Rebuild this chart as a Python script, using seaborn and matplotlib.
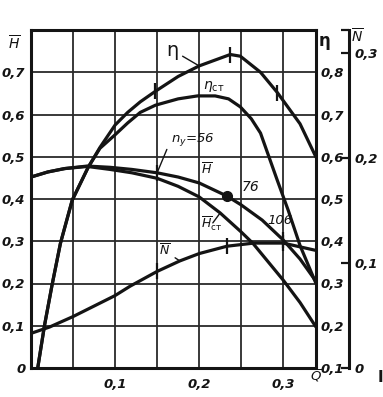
import matplotlib
matplotlib.use("Agg")
import matplotlib.pyplot as plt
import seaborn as sns
import pandas as pd
import numpy as np

# ---------------- data ----------------
q_head = [0, 0.02, 0.04, 0.067, 0.094, 0.12, 0.15, 0.175, 0.2, 0.233, 0.25, 0.275, 0.3, 0.32, 0.339]
head = [0.452, 0.464, 0.472, 0.478, 0.475, 0.470, 0.462, 0.452, 0.438, 0.407, 0.386, 0.350, 0.303, 0.258, 0.205]

q_head_st = [0, 0.02, 0.04, 0.067, 0.094, 0.12, 0.15, 0.175, 0.2, 0.225, 0.25, 0.264, 0.3, 0.32, 0.339]
head_st = [0.452, 0.464, 0.472, 0.477, 0.470, 0.462, 0.449, 0.430, 0.405, 0.367, 0.322, 0.295, 0.208, 0.155, 0.097]

q_power = [0, 0.022, 0.05, 0.1, 0.118, 0.15, 0.177, 0.2, 0.233, 0.265, 0.3, 0.339]
power = [0.033, 0.039, 0.049, 0.069, 0.078, 0.092, 0.102, 0.109, 0.116, 0.119, 0.119, 0.112]

q_eta = [0.008, 0.016, 0.025, 0.035, 0.049, 0.068, 0.082, 0.1, 0.115, 0.13, 0.148, 0.175, 0.2, 0.237, 0.249, 0.273, 0.293, 0.32, 0.339]
eta = [0.10, 0.20, 0.296, 0.395, 0.497, 0.575, 0.622, 0.675, 0.705, 0.73, 0.755, 0.79, 0.815, 0.842, 0.838, 0.80, 0.752, 0.678, 0.599]

q_eta_st = [0.008, 0.016, 0.025, 0.035, 0.049, 0.068, 0.082, 0.1, 0.115, 0.13, 0.148, 0.175, 0.198, 0.219, 0.235, 0.249, 0.262, 0.273, 0.293, 0.306, 0.32, 0.339]
eta_st = [0.10, 0.20, 0.296, 0.395, 0.497, 0.575, 0.62, 0.652, 0.68, 0.705, 0.722, 0.737, 0.744, 0.744, 0.737, 0.718, 0.69, 0.656, 0.544, 0.473, 0.39, 0.30]

op_q = [0.148, 0.233, 0.296]          # operating points n_y = 56, 76, 106
op_labels = ["56", "76", "106"]

x_ticks = [0.1, 0.2, 0.3]
x_ticklabels = ["0,1", "0,2", "0,3"]
h_ticks = [0, 0.1, 0.2, 0.3, 0.4, 0.5, 0.6, 0.7]
h_ticklabels = ["0", "0,1", "0,2", "0,3", "0,4", "0,5", "0,6", "0,7"]
eta_ticks = [0.1, 0.2, 0.3, 0.4, 0.5, 0.6, 0.7, 0.8]
eta_ticklabels = ["0,1", "0,2", "0,3", "0,4", "0,5", "0,6", "0,7", "0,8"]
n_ticks = [0, 0.1, 0.2, 0.3]
n_ticklabels = ["0", "0,1", "0,2", "0,3"]

# ---------------- style ----------------
sns.set_style("white")
plt.rcParams['font.family'] = ['DejaVu Sans']
plt.rcParams['mathtext.fontset'] = 'dejavusans'
INK = "#141414"
GRID = "#2a2a2a"
LW = 2.3
FS = 9.5
tfont = dict(fontsize=FS, fontstyle='italic', fontweight='bold', color=INK)

W, HH = 383, 397
fig = plt.figure(figsize=(W / 100, HH / 100), dpi=100)
fig.patch.set_facecolor("white")
L, R, T, B = 31, 316, 30, 368
ax = fig.add_axes([L / W, 1 - B / HH, (R - L) / W, (B - T) / HH])
ax_eta = ax.twinx()
ax_n = ax.twinx()
ax_n.spines['right'].set_position(('axes', 1 + 33 / (R - L)))

ax.set_xlim(0, 0.339)
ax.set_ylim(0, 0.8)
ax_eta.set_ylim(0.1, 0.9)
ax_n.set_ylim(0, 0.322)

def px(x, y):
    """figure pixel position (from top-left) -> figure pixels for annotate"""
    return (x, HH - y)

def fr(x, y):
    """figure pixel position (from top-left) -> figure fraction"""
    return (x / W, 1 - y / HH)

# ---------------- curves ----------------
df_h = pd.DataFrame({"Q": q_head, "H": head})
df_hs = pd.DataFrame({"Q": q_head_st, "H": head_st})
df_n = pd.DataFrame({"Q": q_power, "N": power})
df_e = pd.DataFrame({"Q": q_eta, "eta": eta})
df_es = pd.DataFrame({"Q": q_eta_st, "eta": eta_st})

sns.lineplot(data=df_h, x="Q", y="H", ax=ax, color=INK, lw=LW, sort=False, estimator=None)
sns.lineplot(data=df_hs, x="Q", y="H", ax=ax, color=INK, lw=LW, sort=False, estimator=None)
sns.lineplot(data=df_e, x="Q", y="eta", ax=ax_eta, color=INK, lw=LW, sort=False, estimator=None)
sns.lineplot(data=df_es, x="Q", y="eta", ax=ax_eta, color=INK, lw=LW, sort=False, estimator=None)
sns.lineplot(data=df_n, x="Q", y="N", ax=ax_n, color=INK, lw=LW, sort=False, estimator=None)

def nearest(qs, q):
    return int(np.argmin(np.abs(np.asarray(qs) - q)))

# tick marks on curves at operating points
for i, q in enumerate(op_q):
    k = nearest(q_eta, q)
    ax_eta.plot([q_eta[k]], [eta[k]], marker='|', ms=11, mew=1.6, color=INK, ls='none')
    k = nearest(q_power, q)
    ax_n.plot([q_power[k]], [power[k]], marker='|', ms=11, mew=1.6, color=INK, ls='none')
    k = nearest(q_head, q)
    if i == 1:
        ax.plot([q_head[k]], [head[k]], marker='o', ms=7, color=INK, ls='none')
    else:
        ax.plot([q_head[k]], [head[k]], marker='|', ms=11, mew=1.6, color=INK, ls='none')

# ---------------- axes styling ----------------
ax.set_xticks(x_ticks)
ax.set_xticklabels(x_ticklabels, **tfont)
ax.set_xticks([0.05, 0.15, 0.25], minor=True)
ax.set_yticks(h_ticks)
ax.set_yticklabels(h_ticklabels, **tfont)
ax.tick_params(axis='both', which='both', length=0)
ax.tick_params(axis='x', pad=7)
ax.tick_params(axis='y', pad=4)
ax.grid(True, which='both', color=GRID, lw=1.3)
ax.set_axisbelow(True)
ax.set_xlabel("")
ax.set_ylabel("")
for s in ax.spines.values():
    s.set_visible(True)
    s.set_color(INK)
    s.set_linewidth(2.2)

ax_eta.set_yticks(eta_ticks)
ax_eta.set_yticklabels(eta_ticklabels, **tfont)
ax_eta.tick_params(axis='y', length=0, pad=3)
ax_eta.set_ylabel("")
ax_eta.grid(False)
for s in ax_eta.spines.values():
    s.set_visible(False)

ax_n.set_yticks(n_ticks)
ax_n.set_yticklabels(n_ticklabels, **tfont)
ax_n.set_yticks([0.322], minor=True)
ax_n.tick_params(axis='y', which='both', direction='in', length=6, width=1.6, color=INK, pad=4)
ax_n.set_ylabel("")
ax_n.grid(False)
for name, s in ax_n.spines.items():
    s.set_visible(name == 'right')
ax_n.spines['right'].set_linewidth(2.2)
ax_n.spines['right'].set_color(INK)

# ---------------- axis titles ----------------
fig.text(*fr(14, 43), r'$\overline{H}$', ha='center', va='center', fontsize=10, color=INK)
fig.text(*fr(325, 41), 'η', ha='center', va='center', fontsize=12, fontweight='bold', color=INK)
fig.text(*fr(357, 36), r'$\overline{N}$', ha='center', va='center', fontsize=10, color=INK)
fig.text(*fr(316, 376), r'$\overline{Q}$', ha='center', va='center', fontsize=9.5, color=INK)
fig.text(*fr(380, 377), 'I', ha='center', va='center', fontsize=11, fontweight='bold', color=INK)

# ---------------- curve labels ----------------
arrow = dict(arrowstyle='-', color=INK, lw=1.0, shrinkA=1, shrinkB=0)

k = nearest(q_eta, 0.2)
ax_eta.annotate('η', xy=(q_eta[k], eta[k]), xytext=px(172, 50), textcoords='figure pixels',
                ha='center', va='center', fontsize=14, color=INK, arrowprops=arrow)
k = nearest(q_eta_st, 0.198)
ax_eta.annotate(r'$\eta_{\mathregular{ст}}$', xy=(q_eta_st[k], eta_st[k]), xytext=px(214, 87),
                textcoords='figure pixels', ha='center', va='center', fontsize=10, color=INK,
                arrowprops=arrow)
k = nearest(q_head, op_q[0])
ax.annotate(r'$n_{\mathregular{у}}$=' + op_labels[0], xy=(q_head[k], head[k]), xytext=px(193, 139),
            textcoords='figure pixels', ha='center', va='center', fontsize=9.5,
            fontstyle='italic', color=INK, arrowprops=dict(arrowstyle='-', color=INK, lw=1.0,
                                                             shrinkA=2, shrinkB=0,
                                                             relpos=(0.0, 0.5)))
k = nearest(q_head, 0.2)
ax.annotate(r'$\overline{H}$', xy=(q_head[k], head[k]), xytext=px(207, 170),
            textcoords='figure pixels', ha='center', va='center', fontsize=9, color=INK,
            arrowprops=arrow)
fig.text(*fr(251, 187), op_labels[1], ha='center', va='center', fontsize=10,
         fontstyle='italic', color=INK)
fig.text(*fr(280, 220), op_labels[2], ha='center', va='center', fontsize=9.5,
         fontstyle='italic', color=INK)
k = nearest(q_head_st, 0.225)
ax.annotate(r'$\overline{H}_{\mathregular{ст}}$', xy=(q_head_st[k], head_st[k]), xytext=px(212, 224),
            textcoords='figure pixels', ha='center', va='center', fontsize=9, color=INK,
            arrowprops=arrow)
k = nearest(q_power, 0.177)
ax_n.annotate(r'$\overline{N}$', xy=(q_power[k], power[k]), xytext=px(165, 251),
              textcoords='figure pixels', ha='center', va='center', fontsize=9, color=INK,
              arrowprops=arrow)

fig.savefig("out.png", dpi=100, facecolor="white")
